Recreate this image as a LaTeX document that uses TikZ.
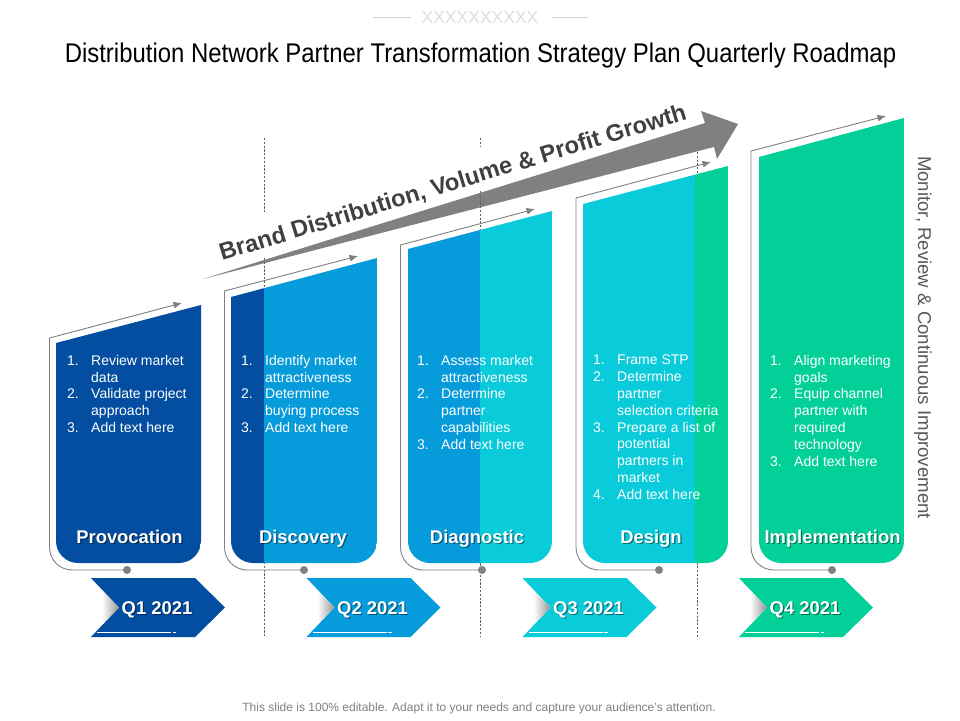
\documentclass[tikz,border=0pt]{standalone}
\usepackage{fontspec}
\setmainfont{Liberation Sans}
\usetikzlibrary{arrows.meta,calc}
\definecolor{cdark}{HTML}{034EA0}
\definecolor{cblue}{HTML}{069BDA}
\definecolor{ccyan}{HTML}{09CBD9}
\definecolor{cgreen}{HTML}{02D098}
\definecolor{cgray}{HTML}{808080}
\definecolor{ctext}{HTML}{404040}
\tikzset{
  x=1pt,y=-1pt,
  outline/.style={draw=cgray,line width=0.9pt,-{Latex[length=8.5pt,width=7pt]}},
  guide/.style={draw=black!62,line width=0.6pt,dash pattern=on 2.2pt off 1.6pt},
  dotmark/.style={circle,fill=cgray,minimum size=8pt,inner sep=0pt},
  listbox/.style={anchor=north west,inner sep=0pt,text=white,font=\fontsize{14}{16.8}\selectfont,align=left},
  cardlabel/.style={anchor=base,text=white,font=\fontsize{18.4}{22}\selectfont\bfseries,inner sep=0pt},
}
\newcommand{\shadowed}[1]{\rlap{\pgfsetfillopacity{0.45}\kern1.2pt\raisebox{-1.2pt}{\textcolor{black}{#1}}\pgfsetfillopacity{1}}#1}
% #1 name, #2 left, #3 right, #4 top-left y, #5 top-right y, #6 left colour, #7 split x, #8 right colour
\newcommand{\cardshape}[8]{%
  \begin{scope}
    \clip[rounded corners=22pt] (#2,#4-40) -- (#2,563) -- (#3,563) -- (#3,#5-40) -- cycle;
    \clip (#2,#4) -- (#3,#5) -- (#3,600) -- (#2,600) -- cycle;
    \fill[#6] (#2,100) rectangle (#7,600);
    \fill[#8] (#7,100) rectangle (#3,600);
  \end{scope}
  \coordinate (#1tl) at (#2,#4);
}
% #1 name, #2 line x, #3 top y, #4 tip x, #5 tip y, #6 dot x
\newcommand{\cardline}[6]{%
  \node[dotmark] (#1dot) at (#6,570) {};
  \coordinate (#1tip) at (#4,#5);
  \draw[outline] (#1dot.center) -- (#2+23,570) .. controls (#2+10,570) and (#2,560) .. (#2,547) -- (#2,#3) -- (#1tip);
}
% #1 name, #2 left x, #3 fill, #4 text
\newcommand{\chevron}[4]{%
  \fill[#3] (#2,578) -- (#2+104,578) -- (#2+134,607.5) -- (#2+104,637) -- (#2,637) -- (#2+28,607.5) -- cycle;
  \shade[left color=white,right color=black!42] (#2+11,590.5) -- (#2+28,607.5) -- (#2+11,624.5) -- cycle;
  \draw[white,line width=0.8pt] (#2+6,632) -- (#2+80,632);
  \draw[white,line width=0.8pt] (#2+81.5,632) -- (#2+85,632);
  \node[cardlabel] (#1) at (#2+66,614.5) {\shadowed{#4}};
}
\newcommand{\nm}[1]{\makebox[24pt][l]{#1.}}
\newcommand{\ind}{\hspace*{24pt}}
\begin{document}
\begin{tikzpicture}
\useasboundingbox (0,0) rectangle (960,720);
\fill[white] (0,0) rectangle (960,720);

% header
\node[text=black!13,font=\fontsize{17.5}{18}\selectfont,inner sep=0pt] (mark) at (480,17) {XXXXXXXXXX};
\coordinate (ml1) at (373,17); \coordinate (ml2) at (411,17);
\coordinate (mr1) at (552,17); \coordinate (mr2) at (588,17);
\draw[black!18,line width=0.7pt] (ml1) -- (ml2) (mr1) -- (mr2);
\node[text=black,font=\fontsize{27}{30}\selectfont,inner sep=0pt] (title) at (480.5,56) {\scalebox{0.886}[1]{Distribution Network Partner Transformation Strategy Plan Quarterly Roadmap}};

% big arrow
\coordinate (bigtail) at (203,279);
\coordinate (bighead) at (738,124);
\fill[cgray] (bigtail) -- (705,123) -- (701,111) -- (bighead) -- (717,159) -- (714,147) -- cycle;
\node[rotate=16.9,text=ctext,font=\fontsize{23.7}{28}\selectfont\bfseries,inner sep=0pt] (brand) at (453,183.5) {Brand Distribution, Volume \& Profit Growth};

% guides
\draw[guide] (264,138) -- (264,213) (264,258) -- (264,637);
\draw[guide] (480,138) -- (480,147) (480,191) -- (480,637);
\draw[guide] (697,152) -- (697,637);

% cards
\cardshape{a}{56}{201}{343}{305}{cdark}{201}{cdark}
\cardshape{b}{231}{377}{297}{258}{cdark}{264}{cblue}
\cardshape{c}{408}{552}{249}{211}{cblue}{480}{ccyan}
\cardshape{d}{583}{728}{204}{166}{ccyan}{695}{cgreen}
\cardshape{e}{759}{904}{157}{118}{cgreen}{904}{cgreen}

\cardline{a}{49.5}{338}{182}{303}{127}
\cardline{b}{224.5}{291}{358}{256}{304}
\cardline{c}{400.5}{245}{535}{209}{482}
\cardline{d}{576}{198}{711}{162}{659}
\cardline{e}{751}{151}{886}{116}{832}

% lists
\node[listbox] (la) at (67,355) {\nm{1}Review market\\\ind data\\\nm{2}Validate project\\\ind approach\\\nm{3}Add text here};
\node[listbox] (lb) at (241,355) {\nm{1}Identify market\\\ind attractiveness\\\nm{2}Determine\\\ind buying process\\\nm{3}Add text here};
\node[listbox] (lc) at (417,355) {\nm{1}Assess market\\\ind attractiveness\\\nm{2}Determine\\\ind partner\\\ind capabilities\\\nm{3}Add text here};
\node[listbox] (ld) at (593,355) {\nm{1}Frame STP\\\nm{2}Determine\\\ind partner\\\ind selection criteria\\\nm{3}Prepare a list of\\\ind potential\\\ind partners in\\\ind market\\\nm{4}Add text here};
\node[listbox] (le) at (770,355) {\nm{1}Align marketing\\\ind goals\\\nm{2}Equip channel\\\ind partner with\\\ind required\\\ind technology\\\nm{3}Add text here};

% card titles
\node[cardlabel] (ta) at (129.5,543.5) {\shadowed{Provocation}};
\node[cardlabel] (tb) at (303,543.5) {\shadowed{Discovery}};
\node[cardlabel] (tc) at (477,543.5) {\shadowed{Diagnostic}};
\node[cardlabel] (td) at (651,543.5) {\shadowed{Design}};
\node[cardlabel] (te) at (832.5,543.5) {\shadowed{Implementation}};

% quarter chevrons
\chevron{qa}{91}{cdark}{Q1 2021}
\chevron{qb}{306.5}{cblue}{Q2 2021}
\chevron{qc}{522.5}{ccyan}{Q3 2021}
\chevron{qd}{739}{cgreen}{Q4 2021}

% side text
\node[rotate=-90,text=black!65,font=\fontsize{18.6}{22}\selectfont,inner sep=0pt] (side) at (923,337.5) {Monitor, Review \& Continuous Improvement};

% footer
\node[text=cgray,font=\fontsize{12}{14}\selectfont,inner sep=0pt] (foot) at (479,708) {This slide is 100\% editable. Adapt it to your needs and capture your audience's attention.};
\end{tikzpicture}
\end{document}
